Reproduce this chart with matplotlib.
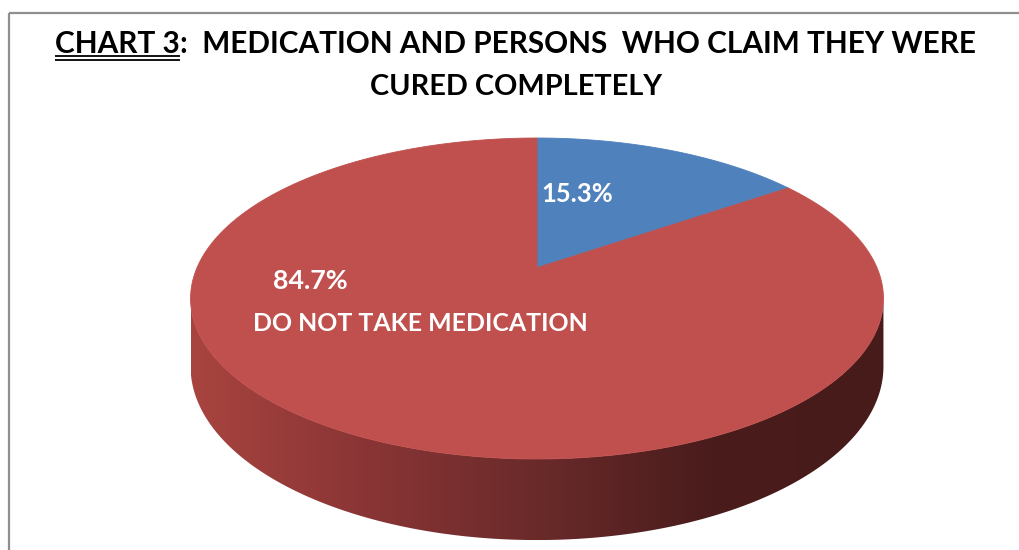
import numpy as np
import matplotlib
matplotlib.use("Agg")
import matplotlib.pyplot as plt
from matplotlib.patches import Polygon
from matplotlib.colors import LinearSegmentedColormap

# ---------------- data ----------------
categories = ["TAKE MEDICATION", "DO NOT TAKE MEDICATION"]
values = [15.3, 84.7]
show_category = [False, True]
slice_colors = ["#4F81BD", "#C0504D"]
title_prefix = "CHART 3"
title_rest = ":  MEDICATION AND PERSONS  WHO CLAIM THEY WERE"
title_line2 = "CURED COMPLETELY"

# ---------------- figure ----------------
W, H = 1020, 550
fig = plt.figure(figsize=(W / 100, H / 100), dpi=100)
ax = fig.add_axes([0, 0, 1, 1])
ax.set_xlim(0, W)
ax.set_ylim(H, 0)
ax.axis("off")
renderer = fig.canvas.get_renderer()
FONT = ["Liberation Sans Narrow", "Lato"]

# frame
ax.plot([9, 9], [13, H + 5], color="#8f8f8f", lw=1.6, solid_capstyle="butt")
ax.plot([9, W + 5], [13, 13], color="#8f8f8f", lw=1.6, solid_capstyle="butt")

# ---------------- perspective pie geometry ----------------
cx = 537.0          # horizontal centre
y_front = 459.0     # front edge of the top face
y_span = 321.0      # front-to-back height of the top face
a_rad = 340.0       # horizontal radius at mid depth
Bp = 5.21           # perspective constant
Ap = (1 + Bp) / 2
depth0 = 65.5       # wall height at mid depth


def proj(u, v, drop=0.0):
    s = Bp / (v + Bp)
    X = cx + a_rad * u * s
    Y = y_front - y_span * Ap * (v + 1) / (v + Bp) + drop * s
    return X, Y


def arc(t0, t1, n=200, drop=0.0):
    t = np.radians(np.linspace(t0, t1, n))
    return proj(np.cos(t), np.sin(t), drop)


# side wall (front silhouette between widest points)
t_sil = np.degrees(np.arcsin(-1 / Bp))
tl, tr = 180 - t_sil, 360 + t_sil
xt, yt = arc(tl, tr, 300)
xb, yb = arc(tr, tl, 300, drop=depth0)
side_pts = np.column_stack([np.r_[xt, xb], np.r_[yt, yb]])
side = Polygon(side_pts, closed=True, facecolor="none", edgecolor="none")
ax.add_patch(side)
cmap = LinearSegmentedColormap.from_list(
    "wall", ["#a8443f", "#8a3535", "#6a2a2a", "#4a1c1c", "#481b1b"])
grad = np.linspace(0, 1, 512).reshape(1, -1)
x0, x1 = side_pts[:, 0].min(), side_pts[:, 0].max()
y0, y1 = side_pts[:, 1].min(), side_pts[:, 1].max()
im = ax.imshow(grad, cmap=cmap, extent=[x0, x1, y1, y0], aspect="auto",
               interpolation="bilinear", zorder=1)
im.set_clip_path(side)

# top face wedges (start at 12 o'clock, clockwise)
total = float(sum(values))
start = 90.0
for val, col in zip(values, slice_colors):
    sweep = 360.0 * val / total
    xa, ya = arc(start, start - sweep, 300)
    pts = np.column_stack([np.r_[cx, xa], np.r_[proj(0.0, 0.0)[1], ya]])
    ax.add_patch(Polygon(pts, closed=True, facecolor=col, edgecolor=col,
                         lw=0.6, zorder=2))
    start -= sweep


# ---------------- text helpers ----------------
def fit_text(x, y, s, target_w, fs0=20, **kw):
    t = ax.text(x, y, s, fontsize=fs0, **kw)
    w = t.get_window_extent(renderer).width
    t.set_fontsize(fs0 * target_w / w)
    return t


# data labels
lab_kw = dict(color="white", fontweight="bold", family=FONT, va="baseline",
              zorder=5)
fit_text(541, 202, f"{values[0]:.1f}%", 72, ha="left", **lab_kw)
fit_text(273, 289, f"{values[1]:.1f}%", 75, ha="left", **lab_kw)
for cat, show in zip(categories, show_category):
    if show:
        fit_text(253, 331, cat, 334, ha="left", **lab_kw)

# ---------------- title ----------------
tkw = dict(color="black", fontweight="bold", family=FONT, va="baseline")
title_left, title_right = 55.0, 975.0
fs = 22
ta = ax.text(0, 53, title_prefix, fontsize=fs, ha="left", **tkw)
tb = ax.text(0, 53, title_rest, fontsize=fs, ha="left", **tkw)
wa = ta.get_window_extent(renderer).width
wb = tb.get_window_extent(renderer).width
k = (title_right - title_left) / (wa + wb)
fs *= k
ta.set_fontsize(fs)
tb.set_fontsize(fs)
wa = ta.get_window_extent(renderer).width
ta.set_x(title_left)
tb.set_x(title_left + wa)
for yy in (55.5, 59.5):
    ax.plot([title_left, title_left + wa], [yy, yy], color="black", lw=1.3,
            solid_capstyle="butt")
fit_text(516, 95, title_line2, 292, ha="center", **tkw)

fig.savefig("out.png", dpi=100)
